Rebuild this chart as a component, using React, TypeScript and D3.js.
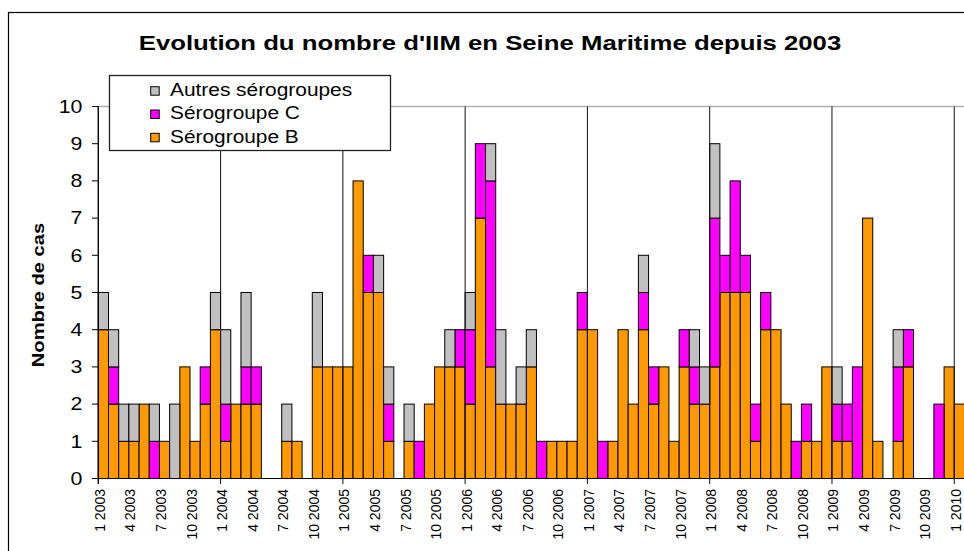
import React from "react";
import * as d3 from "d3";

const years = [2003, 2004, 2005, 2006, 2007, 2008, 2009, 2010];
// monthly counts from Jan 2003 to Jan 2010
const serogroupeB = [
  4, 2, 1, 1, 2, 0, 1, 0, 3, 1, 2, 4,
  1, 2, 2, 2, 0, 0, 1, 1, 0, 3, 3, 3,
  3, 8, 5, 5, 1, 0, 1, 0, 2, 3, 3, 3,
  2, 7, 3, 2, 2, 2, 3, 0, 1, 1, 1, 4,
  4, 0, 1, 4, 2, 4, 2, 3, 1, 3, 2, 2,
  3, 5, 5, 5, 1, 4, 4, 2, 0, 1, 1, 3,
  1, 1, 0, 7, 1, 0, 1, 3, 0, 0, 0, 3,
  2,
];
const serogroupeC = [
  0, 1, 0, 0, 0, 1, 0, 0, 0, 0, 1, 0,
  1, 0, 1, 1, 0, 0, 0, 0, 0, 0, 0, 0,
  0, 0, 1, 0, 1, 0, 0, 1, 0, 0, 0, 1,
  2, 2, 5, 0, 0, 0, 0, 1, 0, 0, 0, 1,
  0, 1, 0, 0, 0, 1, 1, 0, 0, 1, 1, 0,
  4, 1, 3, 1, 1, 1, 0, 0, 1, 1, 0, 0,
  1, 1, 3, 0, 0, 0, 2, 1, 0, 0, 2, 0,
  0,
];
const autres = [
  1, 1, 1, 1, 0, 1, 0, 2, 0, 0, 0, 1,
  2, 0, 2, 0, 0, 0, 1, 0, 0, 2, 0, 0,
  0, 0, 0, 1, 1, 0, 1, 0, 0, 0, 1, 0,
  1, 0, 1, 2, 0, 1, 1, 0, 0, 0, 0, 0,
  0, 0, 0, 0, 0, 1, 0, 0, 0, 0, 1, 1,
  2, 0, 0, 0, 0, 0, 0, 0, 0, 0, 0, 0,
  1, 0, 0, 0, 0, 0, 1, 0, 0, 0, 0, 0,
  0,
];
const yTicks = [0, 1, 2, 3, 4, 5, 6, 7, 8, 9, 10];
const seriesNames = ["Sérogroupe B", "Sérogroupe C", "Autres sérogroupes"];
const seriesColors = ["#FF9900", "#FF00FF", "#C0C0C0"];
const title = "Evolution du nombre d'IIM en Seine Maritime depuis 2003";
const yTitle = "Nombre de cas";

const months: { key: string; m: number; y: number }[] = [];
years.forEach((y) => {
  for (let m = 1; m <= 12; m++) {
    if (months.length < serogroupeB.length) months.push({ key: `${m} ${y}`, m, y });
  }
});

const rows = months.map((mo, i) => ({
  key: mo.key,
  B: serogroupeB[i],
  C: serogroupeC[i],
  A: autres[i],
}));

const FONT = "'Liberation Sans', Arial, sans-serif";

export default function App() {
  const x0 = 98.3;
  const step = 10.19;
  const x = d3
    .scaleBand<string>()
    .domain(months.map((d) => d.key))
    .range([x0, x0 + step * months.length])
    .paddingInner(0)
    .paddingOuter(0);
  const y = d3.scaleLinear().domain([0, 10]).range([478.5, 106.5]);
  const stack = d3.stack<any>().keys(["B", "C", "A"]);
  const layers = stack(rows);
  const xRight = 964;

  const yearLines = months
    .map((mo, i) => ({ mo, i }))
    .filter((d) => d.mo.m === 1)
    .map((d) => x(d.mo.key) as number);

  return (
    <svg
      width={964}
      height={551}
      style={{ position: "absolute", left: 0, top: 0, background: "#fff" }}
    >
      <rect x={0} y={0} width={964} height={551} fill="#fff" />
      {/* outer frame */}
      <rect x={8.5} y={12.5} width={1000} height={600} fill="none" stroke="#000" strokeWidth={1.2} />
      {/* title */}
      <text
        transform={`translate(490,50) scale(1.32,1)`}
        textAnchor="middle"
        fontFamily={FONT}
        fontWeight="bold"
        fontSize={19.5}
        fill="#000"
      >
        {title}
      </text>
      {/* plot top border */}
      <line x1={x0} x2={xRight} y1={y(10)} y2={y(10)} stroke="#b0b0b0" strokeWidth={1.6} />
      {/* bars */}
      {layers.map((layer, li) => (
        <g key={li}>
          {layer.map((d, i) =>
            d[1] - d[0] > 0 ? (
              <rect
                key={i}
                x={x(rows[i].key)}
                width={x.bandwidth()}
                y={y(d[1])}
                height={y(d[0]) - y(d[1])}
                fill={seriesColors[li]}
                stroke="#000"
                strokeWidth={1}
              />
            ) : null
          )}
        </g>
      ))}
      {/* year separator lines */}
      {yearLines.map((lx, i) => (
        <line key={i} x1={lx} x2={lx} y1={y(10)} y2={484} stroke="#111" strokeWidth={1} />
      ))}
      {/* axes */}
      <line x1={x0} x2={x0} y1={y(10)} y2={484} stroke="#000" strokeWidth={1.2} />
      <line x1={x0} x2={xRight} y1={y(0)} y2={y(0)} stroke="#000" strokeWidth={1.2} />
      {yTicks.map((t) => (
        <g key={t}>
          <line x1={92} x2={x0} y1={y(t)} y2={y(t)} stroke="#000" strokeWidth={1} />
          <text
            transform={`translate(82.5,${y(t)}) scale(1.22,1)`}
            textAnchor="end"
            dy="0.36em"
            fontFamily={FONT}
            fontSize={17.5}
            fill="#000"
          >
            {t}
          </text>
        </g>
      ))}
      {/* x labels */}
      {months
        .filter((mo) => (mo.m - 1) % 3 === 0)
        .map((mo) => {
          const cx = (x(mo.key) as number) + x.bandwidth() / 2;
          return (
            <text
              key={mo.key}
              transform={`translate(${cx},489) rotate(-90)`}
              textAnchor="end"
              dy="0.1em"
              fontFamily={FONT}
              fontSize={14}
              fill="#000"
            >
              {mo.key}
            </text>
          );
        })}
      {/* y title */}
      <text
        transform={`translate(44,295) rotate(-90) scale(1.2,1)`}
        textAnchor="middle"
        fontFamily={FONT}
        fontWeight="bold"
        fontSize={16.8}
        fill="#000"
      >
        {yTitle}
      </text>
      {/* legend */}
      <rect x={109.5} y={75.5} width={281} height={75} fill="#fff" stroke="#222" strokeWidth={1.3} />
      {[2, 1, 0].map((si, row) => {
        const sy = 86.7 + row * 23.3;
        return (
          <g key={si}>
            <rect x={150.7} y={sy} width={8.5} height={8.5} fill={seriesColors[si]} stroke="#000" strokeWidth={1} />
            <text
              transform={`translate(170,${sy + 9.2}) scale(1.16,1)`}
              fontFamily={FONT}
              fontSize={18}
              fill="#000"
            >
              {seriesNames[si]}
            </text>
          </g>
        );
      })}
    </svg>
  );
}
